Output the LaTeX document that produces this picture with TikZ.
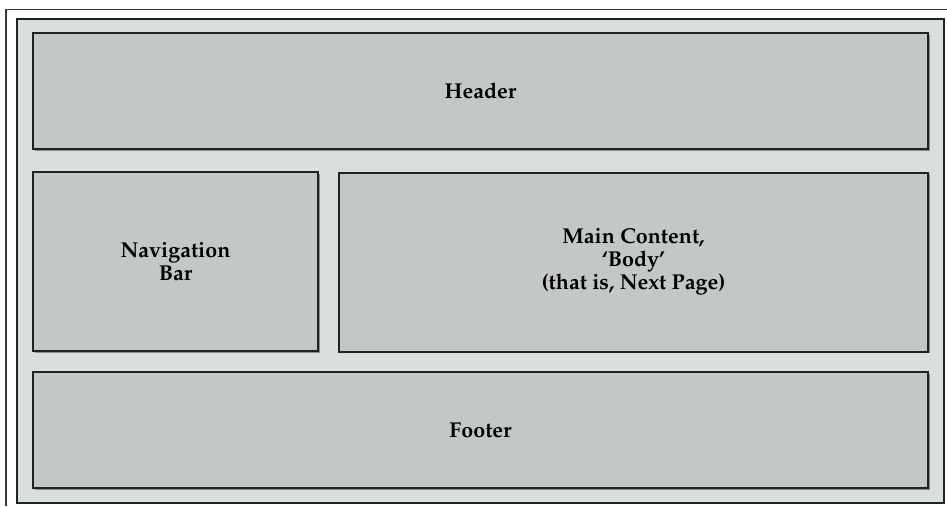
\documentclass[tikz,border=0pt]{standalone}
\usepackage[T1]{fontenc}
\renewcommand{\rmdefault}{ppl}
\usetikzlibrary{shadows}
\definecolor{panelfill}{HTML}{DADEDE}
\definecolor{boxfill}{HTML}{C4C7C7}
\definecolor{edge}{HTML}{222222}
\definecolor{shade}{HTML}{8A8C8C}
\tikzset{
  panel/.style={draw=edge, line width=2pt, fill=panelfill, inner sep=0pt,
    drop shadow={shadow xshift=1.5pt, shadow yshift=-1.5pt, fill=shade, opacity=1}},
  region/.style={draw=edge, line width=2pt, fill=boxfill, inner sep=0pt,
    align=center, font=\fontsize{21.5}{23}\selectfont\bfseries,
    drop shadow={shadow xshift=1.5pt, shadow yshift=-1.5pt, fill=shade, opacity=1}},
  frame/.style={draw=edge!90, line width=1.5pt}
}
\begin{document}
\begin{tikzpicture}[x=1pt,y=-1pt]
\useasboundingbox (0,0) rectangle (947,506);
\fill[white] (0,0) rectangle (947,506);
\coordinate (fbl) at (6,506);
\coordinate (ftl) at (6,9.5);
\coordinate (ftr) at (947,9.5);
\draw[frame] (fbl) -- (ftl) -- (ftr);
\node[panel, minimum width=927pt, minimum height=484pt] (panel) at (480,260.5) {};
\node[region, minimum width=895pt, minimum height=116pt] (header) at (480.5,91) {Header};
\node[region, minimum width=285pt, minimum height=179pt] (nav) at (175.5,261.5) {Navigation\\Bar};
\node[region, minimum width=589pt, minimum height=179pt] (main) at (633.5,262) {Main Content,\\`Body'\\(that is, Next Page)};
\node[region, minimum width=895pt, minimum height=116pt] (footer) at (480.5,430) {Footer};
\end{tikzpicture}
\end{document}
